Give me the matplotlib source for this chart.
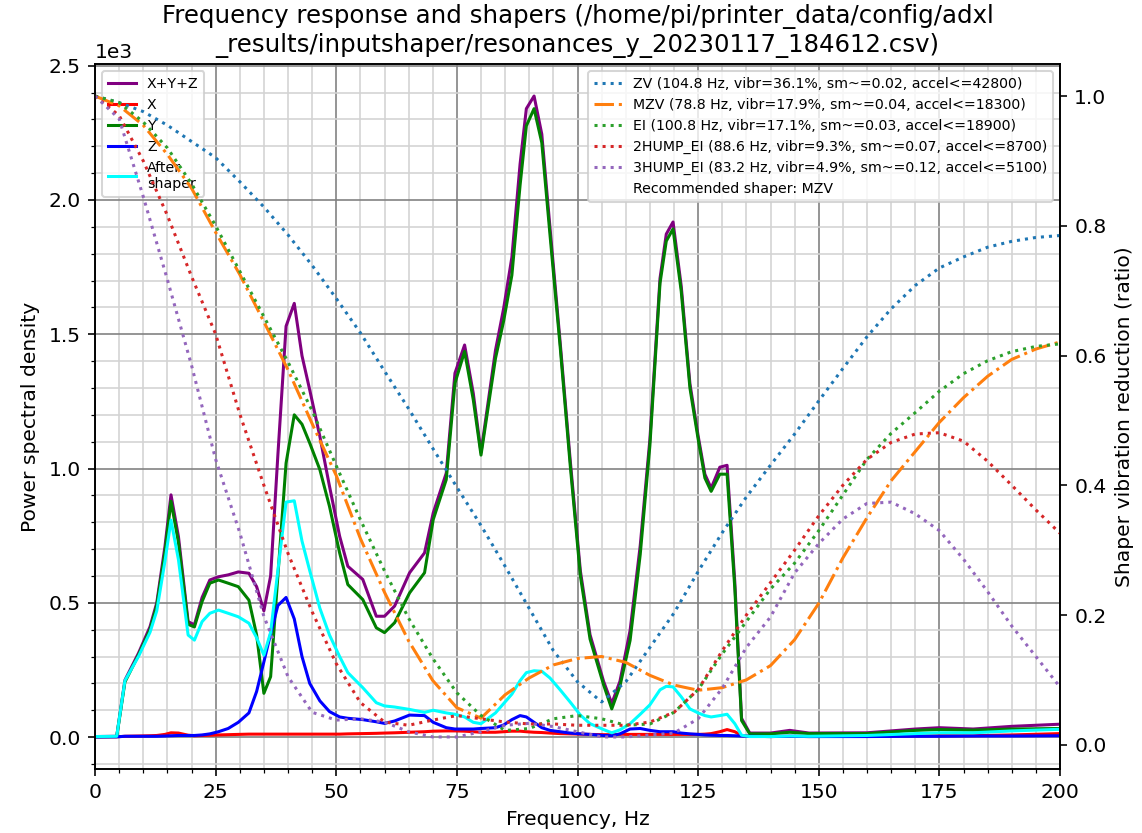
import numpy as np
import matplotlib
matplotlib.use("Agg")
import matplotlib.pyplot as plt
import matplotlib.ticker as ticker
import matplotlib.font_manager as font_manager
from textwrap import wrap

# Frequency bins (Hz) of the measured power spectral density
psd_freqs = [0, 4.5, 6.2, 9.0, 11.4, 12.8, 14.5, 15.75, 17.3, 19.3,
             20.6, 22.2, 23.8, 25.6, 27.6, 29.7, 31.9, 33.5, 35.0, 36.4,
             37.9, 39.6, 41.3, 42.9, 44.5, 46.6, 48.6, 50.7, 52.4, 55.5,
             58.3, 60.0, 62.1, 65.2, 68.3, 70.1, 72.8, 74.6, 76.6, 78.4,
             80.0, 83.0, 84.7, 86.4, 88.1, 89.4, 91.0, 92.6, 94.3, 96.4,
             98.5, 100.6, 102.6, 105.4, 107.1, 108.8, 110.9, 113.0, 115.0, 117.1,
             118.4, 119.8, 121.5, 123.3, 125.0, 126.4, 127.7, 129.5, 131.0, 132.6,
             134.0, 135.7, 140, 144, 148, 160, 170, 175, 182, 190,
             200]

psd_sum = [2, 3, 212, 312, 411, 500, 710, 902, 746, 430,
           418, 520, 585, 597, 604, 615, 610, 560, 470, 600,
           1050, 1530, 1615, 1420, 1293, 1120, 934, 748, 636, 587,
           450, 450, 488, 612, 686, 835, 983, 1355, 1460, 1280,
           1060, 1440, 1597, 1787, 2134, 2340, 2387, 2245, 1897, 1471,
           1029, 618, 381, 208, 125, 208, 397, 713, 1108, 1708,
           1873, 1918, 1679, 1316, 1122, 979, 927, 1005, 1012, 578,
           70, 15, 15, 25, 15, 16, 30, 35, 30, 40,
           48]

psd_x = [1, 1, 3, 4, 5, 6, 10, 16, 15, 7,
         5, 6, 7, 8, 9, 10, 11, 11, 11, 11,
         11, 11, 11, 11, 11, 11, 11, 11, 12, 13,
         14, 15, 16, 18, 20, 22, 23, 23, 22, 20,
         18, 18, 20, 22, 22, 20, 18, 17, 15, 13,
         12, 11, 10, 9, 9, 10, 10, 10, 10, 10,
         10, 10, 10, 10, 10, 11, 13, 20, 28, 20,
         6, 3, 2, 3, 2, 3, 4, 5, 5, 8,
         13]

psd_y = [1, 2, 205, 305, 400, 490, 690, 878, 725, 420,
         410, 505, 573, 585, 573, 560, 510, 380, 163, 225,
         600, 1020, 1200, 1165, 1095, 996, 859, 686, 568, 512,
         407, 389, 426, 537, 612, 810, 959, 1318, 1436, 1256,
         1050, 1410, 1550, 1720, 2055, 2276, 2340, 2213, 1870, 1455,
         1010, 600, 365, 195, 105, 190, 360, 680, 1085, 1690,
         1847, 1892, 1660, 1300, 1110, 965, 915, 979, 979, 555,
         62, 12, 12, 18, 13, 13, 25, 28, 26, 30,
         32]

psd_z = [0.5, 1, 3, 3, 3, 3, 4, 5, 6, 6,
         6, 8, 12, 20, 32, 55, 90, 170, 280, 385,
         490, 520, 440, 300, 200, 135, 95, 75, 70, 65,
         57, 51, 60, 82, 80, 55, 35, 30, 30, 30,
         32, 35, 45, 65, 80, 75, 55, 35, 25, 20,
         15, 12, 10, 6, 5, 12, 30, 32, 25, 20,
         20, 20, 15, 12, 10, 8, 7, 6, 6, 5,
         4, 3, 2, 3, 2, 2, 3, 3, 4, 4,
         5]

psd_after = [2, 3, 210, 300, 390, 470, 655, 808, 660, 380,
             361, 430, 461, 473, 461, 448, 424, 370, 305, 390,
             620, 875, 880, 730, 620, 480, 380, 300, 240, 184,
             128, 116, 112, 103, 92, 100, 90, 85, 75, 55,
             50, 90, 125, 160, 210, 240, 247, 245, 220, 176,
             130, 82, 50, 28, 16, 27, 50, 85, 120, 176,
             189, 187, 150, 105, 90, 80, 75, 80, 85, 50,
             7, 2, 2, 4, 3, 6, 13, 16, 16, 23,
             29]

# Shaper vibration reduction ratios, sampled every 5 Hz from 0 to 200 Hz
shaper_freqs = list(range(0, 201, 5))

zv_vals = [1.0, 0.99, 0.976, 0.955, 0.93, 0.905, 0.868, 0.829, 0.786, 0.739,
           0.688, 0.635, 0.576, 0.518, 0.457, 0.397, 0.338, 0.275, 0.21, 0.145,
           0.097, 0.066, 0.097, 0.15, 0.203, 0.267, 0.327, 0.382, 0.431, 0.479,
           0.53, 0.58, 0.629, 0.672, 0.708, 0.735, 0.752, 0.767, 0.776, 0.782,
           0.785]

mzv_vals = [1.0, 0.985, 0.955, 0.91, 0.858, 0.79, 0.725, 0.652, 0.578, 0.495,
            0.415, 0.318, 0.235, 0.16, 0.099, 0.057, 0.041, 0.077, 0.103, 0.123,
            0.133, 0.136, 0.127, 0.107, 0.092, 0.084, 0.088, 0.1, 0.122, 0.162,
            0.218, 0.288, 0.35, 0.407, 0.452, 0.497, 0.535, 0.568, 0.594, 0.61,
            0.621]

ei_vals = [1.0, 0.99, 0.96, 0.92, 0.865, 0.80, 0.73, 0.66, 0.59, 0.515,
           0.43, 0.347, 0.268, 0.195, 0.133, 0.08, 0.045, 0.022, 0.025, 0.04,
           0.045, 0.04, 0.03, 0.032, 0.05, 0.085, 0.14, 0.19, 0.24, 0.28,
           0.33, 0.385, 0.44, 0.48, 0.512, 0.545, 0.572, 0.592, 0.606, 0.614,
           0.618]

two_hump_ei_vals = [1.0, 0.97, 0.9, 0.816, 0.722, 0.633, 0.51, 0.40, 0.295, 0.205,
                    0.125, 0.065, 0.035, 0.03, 0.038, 0.045, 0.04, 0.035, 0.032, 0.032,
                    0.03, 0.03, 0.03, 0.035, 0.05, 0.085, 0.145, 0.2, 0.25, 0.30,
                    0.353, 0.40, 0.44, 0.466, 0.479, 0.481, 0.468, 0.437, 0.40, 0.362,
                    0.326]

three_hump_ei_vals = [1.0, 0.965, 0.845, 0.717, 0.585, 0.44, 0.327, 0.198, 0.105, 0.05,
                      0.038, 0.04, 0.035, 0.02, 0.012, 0.012, 0.02, 0.03, 0.033, 0.028,
                      0.02, 0.012, 0.012, 0.015, 0.018, 0.04, 0.087, 0.15, 0.197, 0.265,
                      0.31, 0.348, 0.372, 0.374, 0.356, 0.33, 0.286, 0.236, 0.183, 0.136,
                      0.089]

shaper_names = ["ZV", "MZV", "EI", "2HUMP_EI", "3HUMP_EI"]
shaper_labels = [
    "ZV (104.8 Hz, vibr=36.1%, sm~=0.02, accel<=42800)",
    "MZV (78.8 Hz, vibr=17.9%, sm~=0.04, accel<=18300)",
    "EI (100.8 Hz, vibr=17.1%, sm~=0.03, accel<=18900)",
    "2HUMP_EI (88.6 Hz, vibr=9.3%, sm~=0.07, accel<=8700)",
    "3HUMP_EI (83.2 Hz, vibr=4.9%, sm~=0.12, accel<=5100)",
]
shaper_vals = [zv_vals, mzv_vals, ei_vals, two_hump_ei_vals, three_hump_ei_vals]
selected_shaper = "MZV"

title = ("Frequency response and shapers (/home/pi/printer_data/config/adxl"
         "_results/inputshaper/resonances_y_20230117_184612.csv)")

DPI = 146
fig, ax = plt.subplots(figsize=(1142 / DPI, 833 / DPI), dpi=DPI)
fig.subplots_adjust(left=95 / 1142, right=1060 / 1142,
                    bottom=1 - 769 / 833, top=1 - 64 / 833)

fontP = font_manager.FontProperties()
fontP.set_size('x-small')

ax.set_xlabel('Frequency, Hz')
ax.set_xlim([0, 200])
ax.set_ylabel('Power spectral density')

ax.plot(psd_freqs, psd_sum, label='X+Y+Z', color='purple')
ax.plot(psd_freqs, psd_x, label='X', color='red')
ax.plot(psd_freqs, psd_y, label='Y', color='green')
ax.plot(psd_freqs, psd_z, label='Z', color='blue')

ax.set_title("\n".join(wrap(title, 65)))
ax.xaxis.set_minor_locator(ticker.MultipleLocator(5))
ax.yaxis.set_minor_locator(ticker.AutoMinorLocator())
ax.ticklabel_format(axis='y', style='scientific', scilimits=(0, 0))
ax.grid(which='major', color='grey')
ax.grid(which='minor', color='lightgrey')

ax2 = ax.twinx()
ax2.set_ylabel('Shaper vibration reduction (ratio)')
for name, label, vals in zip(shaper_names, shaper_labels, shaper_vals):
    linestyle = 'dashdot' if name == selected_shaper else 'dotted'
    ax2.plot(shaper_freqs, vals, label=label, linestyle=linestyle)

ax.plot(psd_freqs, psd_after, label='After\nshaper', color='cyan')
ax2.plot([], [], ' ', label="Recommended shaper: %s" % selected_shaper)

ax.legend(loc='upper left', prop=fontP)
ax2.legend(loc='upper right', prop=fontP)

fig.savefig('out.png', dpi=DPI)
